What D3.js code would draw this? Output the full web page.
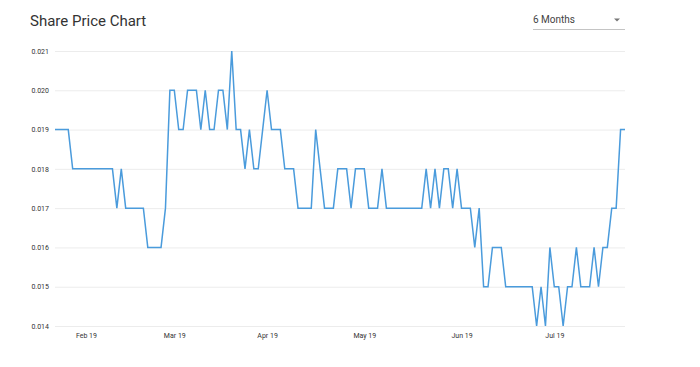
<!DOCTYPE html>
<html>
<head>
<meta charset="utf-8">
<script src="https://cdn.jsdelivr.net/npm/d3@7"></script>
<style>
  html, body { margin: 0; padding: 0; background: #fff; }
  svg { display: block; font-family: Roboto, "Noto Sans", sans-serif; }
</style>
</head>
<body>
<svg id="chart" width="700" height="367"></svg>
<script>
// Daily (trading-day) closing prices
const prices = [
  0.019, 0.019, 0.019, 0.019, 0.018, 0.018, 0.018, 0.018, 0.018, 0.018,
  0.018, 0.018, 0.018, 0.018, 0.017, 0.018, 0.017, 0.017, 0.017, 0.017,
  0.017, 0.016, 0.016, 0.016, 0.016, 0.017, 0.020, 0.020, 0.019, 0.019,
  0.020, 0.020, 0.020, 0.019, 0.020, 0.019, 0.019, 0.020, 0.020, 0.019,
  0.021, 0.019, 0.019, 0.018, 0.019, 0.018, 0.018, 0.019, 0.020, 0.019,
  0.019, 0.019, 0.018, 0.018, 0.018, 0.017, 0.017, 0.017, 0.017, 0.019,
  0.018, 0.017, 0.017, 0.017, 0.018, 0.018, 0.018, 0.017, 0.018, 0.018,
  0.018, 0.017, 0.017, 0.017, 0.018, 0.017, 0.017, 0.017, 0.017, 0.017,
  0.017, 0.017, 0.017, 0.017, 0.018, 0.017, 0.018, 0.017, 0.018, 0.018,
  0.017, 0.018, 0.017, 0.017, 0.017, 0.016, 0.017, 0.015, 0.015, 0.016,
  0.016, 0.016, 0.015, 0.015, 0.015, 0.015, 0.015, 0.015, 0.015, 0.014,
  0.015, 0.014, 0.016, 0.015, 0.015, 0.014, 0.015, 0.015, 0.016, 0.015,
  0.015, 0.015, 0.016, 0.015, 0.016, 0.016, 0.017, 0.017, 0.019, 0.019
];
// Month tick labels and the trading-day index they sit on
const monthLabels = ["Feb 19", "Mar 19", "Apr 19", "May 19", "Jun 19", "Jul 19"];
const monthIndex = [7, 27, 48, 70, 92, 113];
// Y tick values
const yTicks = [0.014, 0.015, 0.016, 0.017, 0.018, 0.019, 0.020, 0.021];

const chartTitle = "Share Price Chart";
const periodLabel = "6 Months";

const svg = d3.select("#chart");
const plotLeft = 55, plotRight = 625, plotTop = 51, plotBottom = 326;

const x = d3.scaleLinear().domain([0, prices.length - 1]).range([plotLeft, plotRight]);
const y = d3.scaleLinear().domain([0.014, 0.021]).range([plotBottom, plotTop]);

// Title
svg.append("text")
  .attr("x", 30).attr("y", 26)
  .attr("font-size", 15)
  .attr("fill", "#333")
  .text(chartTitle);

// Period dropdown
svg.append("text")
  .attr("x", 533).attr("y", 23)
  .attr("font-size", 10)
  .attr("fill", "#444")
  .text(periodLabel);
svg.append("path")
  .attr("d", "M614,18.5 L620,18.5 L617,21.5 Z")
  .attr("fill", "#777");
svg.append("line")
  .attr("x1", 533).attr("x2", 625)
  .attr("y1", 29.5).attr("y2", 29.5)
  .attr("stroke", "#c4c4c4").attr("stroke-width", 1);

// Y axis with gridlines
const yAxis = svg.append("g")
  .attr("transform", `translate(${plotLeft},0)`)
  .call(d3.axisLeft(y).tickValues(yTicks).tickFormat(d3.format(".3f"))
    .tickSize(-(plotRight - plotLeft)).tickPadding(6));
yAxis.select(".domain").remove();
yAxis.selectAll(".tick line").attr("stroke", "#ececec");
yAxis.selectAll(".tick text")
  .attr("font-size", 7).attr("fill", "#333")
  .attr("font-family", "Roboto, sans-serif");

// X axis
const xAxis = svg.append("g")
  .attr("transform", `translate(0,${plotBottom})`)
  .call(d3.axisBottom(x).tickValues(monthIndex)
    .tickFormat((d, i) => monthLabels[i]).tickSize(0).tickPadding(7));
xAxis.select(".domain").remove();
xAxis.selectAll(".tick text")
  .attr("font-size", 7).attr("fill", "#333")
  .attr("font-family", "Roboto, sans-serif");

// Price line
const line = d3.line()
  .x((d, i) => x(i))
  .y(d => y(d));
svg.append("path")
  .datum(prices)
  .attr("fill", "none")
  .attr("stroke", "#4a9bdc")
  .attr("stroke-width", 1.5)
  .attr("stroke-linejoin", "miter")
  .attr("d", line);
</script>
</body>
</html>
